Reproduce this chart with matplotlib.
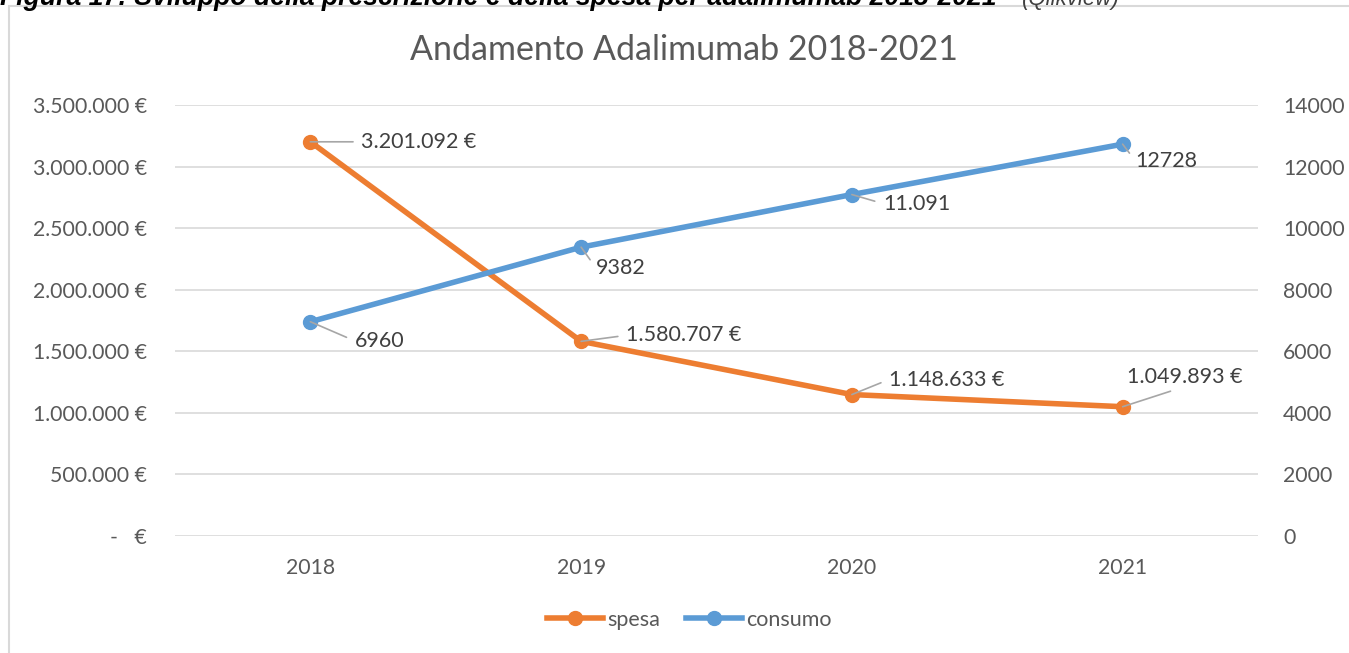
import matplotlib
matplotlib.use('Agg')
import matplotlib.pyplot as plt
from matplotlib.patches import Rectangle
from matplotlib.lines import Line2D

# data
years = ['2018', '2019', '2020', '2021']
spesa = [3201092, 1580707, 1148633, 1049893]
consumo = [6960, 9382, 11091, 12728]
spesa_labels = ['3.201.092 €', '1.580.707 €', '1.148.633 €', '1.049.893 €']
consumo_labels = ['6960', '9382', '11.091', '12728']
left_ticks = [0, 500000, 1000000, 1500000, 2000000, 2500000, 3000000, 3500000]
left_tick_labels = ['-   €', '500.000 €', '1.000.000 €', '1.500.000 €', '2.000.000 €',
                    '2.500.000 €', '3.000.000 €', '3.500.000 €']
right_ticks = [0, 2000, 4000, 6000, 8000, 10000, 12000, 14000]

# colors
orange = '#ED7D31'
blue = '#5B9BD5'
text_col = '#595959'
label_col = '#404040'
grid_col = '#D9D9D9'
leader_col = '#A6A6A6'

plt.rcParams['font.family'] = ['Lato', 'DejaVu Sans']

W, H = 1349, 653
fig = plt.figure(figsize=(W / 100, H / 100), dpi=100)

# outer chart frame (cut by the image edges)
fig.patches.append(Rectangle((9 / W, -0.1), 1.2, 1 - 6 / H + 0.1, transform=fig.transFigure,
                             fill=False, edgecolor=grid_col, linewidth=1.5))

# caption, cut at the top of the image as in the source page
fig.text(0.0, 1 - 5 / H, 'Figura 17: Sviluppo della prescrizione e della spesa per adalimumab 2018-2021',
         fontsize=19.2, fontweight='bold', fontstyle='italic', family='Liberation Sans',
         va='baseline', ha='left', color='black')
fig.text(1022 / W, 1 - 5 / H, '(Qlikview)', fontsize=16, fontstyle='italic',
         family='Liberation Sans', va='baseline', ha='left', color='#404040')

ax = fig.add_axes([175 / W, 1 - 536 / H, (1258 - 175) / W, (536 - 105) / H])
ax2 = ax.twinx()

x = list(range(len(years)))
ax.plot(x, spesa, color=orange, linewidth=4, marker='o', markersize=10, zorder=3,
        solid_capstyle='round')
ax2.plot(x, consumo, color=blue, linewidth=4, marker='o', markersize=10, zorder=3,
         solid_capstyle='round')

ax.set_xlim(-0.5, 3.5)
ax.set_ylim(0, 3500000)
ax2.set_ylim(0, 14000)
ax.set_yticks(left_ticks)
ax.set_yticklabels(left_tick_labels)
ax2.set_yticks(right_ticks)
ax2.set_yticklabels([str(v) for v in right_ticks])
ax.set_xticks(x)
ax.set_xticklabels(years)

ax.grid(axis='y', color=grid_col, linewidth=1.2)
ax.set_axisbelow(True)
for a in (ax, ax2):
    for s in a.spines.values():
        s.set_visible(False)
    a.tick_params(length=0, labelsize=15.3, labelcolor=text_col)
ax.tick_params(axis='y', pad=20)
ax2.tick_params(axis='y', pad=18)
ax.tick_params(axis='x', pad=16)

# data labels with leader lines
spesa_offsets = [(51, 0), (45, 6), (37, 15), (4, 30)]
spesa_rel = [(0, 0.5), (0, 0.5), (0, 0.5), (0.5, 0)]
for i in range(len(years)):
    ax.annotate(spesa_labels[i], (x[i], spesa[i]), xytext=spesa_offsets[i],
                textcoords='offset pixels', fontsize=15.5, color=label_col,
                ha='left', va='center', zorder=5,
                arrowprops=dict(arrowstyle='-', color=leader_col, lw=1.2,
                                shrinkA=4, shrinkB=0, relpos=spesa_rel[i]))

consumo_offsets = [(44, -19), (15, -21), (31, -9), (13, -17)]
for i in range(len(years)):
    ax2.annotate(consumo_labels[i], (x[i], consumo[i]), xytext=consumo_offsets[i],
                 textcoords='offset pixels', fontsize=15.5, color=label_col,
                 ha='left', va='center', zorder=5,
                 arrowprops=dict(arrowstyle='-', color=leader_col, lw=1.2,
                                 shrinkA=4, shrinkB=0, relpos=(0, 0.5)))

fig.text(684 / W, 1 - 50 / H, 'Andamento Adalimumab 2018-2021', fontsize=24.5,
         color=text_col, ha='center', va='center')

handles = [Line2D([], [], color=orange, linewidth=4, marker='o', markersize=10),
           Line2D([], [], color=blue, linewidth=4, marker='o', markersize=10)]
fig.legend(handles, ['spesa', 'consumo'], loc='center', bbox_to_anchor=(689 / W, 1 - 620 / H),
           ncol=2, frameon=False, fontsize=15.5, handlelength=2.6, handletextpad=0.2,
           columnspacing=1.2, labelcolor=text_col)

plt.savefig('out.png', dpi=100)
